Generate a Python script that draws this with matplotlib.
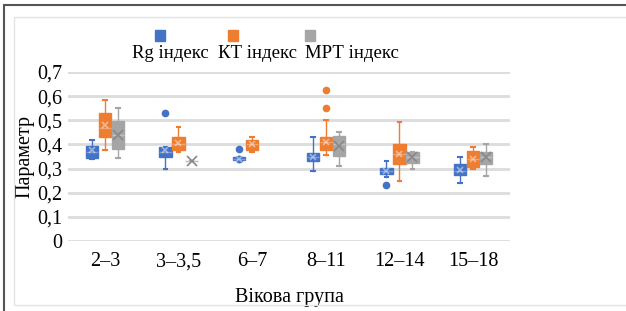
import numpy as np
import matplotlib
matplotlib.use("Agg")
import matplotlib.pyplot as plt
from matplotlib.patches import Rectangle

plt.rcParams['font.family'] = ['Liberation Serif', 'DejaVu Serif']

groups = ['2–3', '3–3,5', '6–7', '8–11', '12–14', '15–18']
series = ['Rg індекс', 'КТ індекс', 'МРТ індекс']
colors = ['#4472C4', '#ED7D31', '#A5A5A5']

# whislo, q1, median, q3, whishi, mean ; None = no box
rg = [(0.34, 0.345, 0.37, 0.395, 0.42, 0.375),
      (0.30, 0.35, 0.37, 0.39, 0.39, 0.375),
      (0.335, 0.335, 0.34, 0.347, 0.347, 0.34),
      (0.29, 0.33, 0.35, 0.365, 0.43, 0.35),
      (0.265, 0.277, 0.29, 0.304, 0.33, 0.29),
      (0.24, 0.272, 0.29, 0.32, 0.35, 0.295)]
kt = [(0.376, 0.43, 0.47, 0.53, 0.583, 0.48),
      (0.37, 0.376, 0.40, 0.43, 0.472, 0.405),
      (0.37, 0.376, 0.40, 0.417, 0.43, 0.40),
      (0.355, 0.378, 0.41, 0.43, 0.50, 0.41),
      (0.25, 0.318, 0.36, 0.403, 0.493, 0.36),
      (0.30, 0.306, 0.34, 0.373, 0.39, 0.34)]
mrt = [(0.344, 0.382, 0.44, 0.497, 0.552, 0.44),
       (0.33, 0.33, 0.33, 0.33, 0.33, 0.33),
       None,
       (0.31, 0.351, 0.40, 0.434, 0.451, 0.395),
       (0.30, 0.324, 0.35, 0.369, 0.369, 0.35),
       (0.268, 0.32, 0.35, 0.369, 0.40, 0.35)]
rg_out = [[], [0.532], [0.38, 0.34, 0.34], [], [0.23], []]
kt_out = [[], [], [], [0.624, 0.551], [], []]
mrt_out = [[], [], [], [], [], []]

data = [rg, kt, mrt]
outs = [rg_out, kt_out, mrt_out]

fig = plt.figure(figsize=(6.26, 3.11), dpi=100)
ax = fig.add_axes([0.1086, 0.225, 0.706, 0.5435])

offsets = [-0.177, 0.0, 0.177]
width = 0.168
for s in range(3):
    stats = []
    pos = []
    for g in range(len(groups)):
        d = data[s][g]
        if d is None:
            continue
        stats.append(dict(whislo=d[0], q1=d[1], med=d[2], q3=d[3],
                          whishi=d[4], mean=d[5], fliers=outs[s][g]))
        pos.append(g + offsets[s])
    c = colors[s]
    ax.bxp(stats, positions=pos, widths=width, patch_artist=True,
           showmeans=True, manage_ticks=False,
           boxprops=dict(facecolor=c, edgecolor=c, linewidth=1),
           medianprops=dict(color='white', alpha=0.3, linewidth=1),
           whiskerprops=dict(color=c, linewidth=1),
           capprops=dict(color=c, linewidth=1.5),
           capwidths=width * 0.3,
           flierprops=dict(marker='o', markerfacecolor=c, markeredgecolor=c,
                           markersize=4.5),
           meanprops=dict(marker='x', markeredgecolor='white' if s < 2 else '#888888',
                          markersize=5 if s < 2 else 7, markeredgewidth=1.2,
                          alpha=0.45 if s < 2 else 1))

ax.set_xlim(-0.5, len(groups) - 0.5)
ax.set_ylim(0, 0.7)
ax.set_yticks(np.arange(0, 0.71, 0.1))
ax.set_yticklabels(['0', '0,1', '0,2', '0,3', '0,4', '0,5', '0,6', '0,7'], fontsize=14.5)
ax.set_xticks(range(len(groups)))
ax.set_xticklabels(groups, fontsize=14.5)
ax.tick_params(length=0, pad=8)
ax.tick_params(axis='y', pad=4)
ax.grid(axis='y', color='#DCDCDC', linewidth=2)
ax.set_axisbelow(True)
for sp in ax.spines.values():
    sp.set_visible(False)
ax.set_ylabel('Параметр', fontsize=14.5, labelpad=2)
ax.set_xlabel('Вікова група', fontsize=14.5, labelpad=12)

# legend: squares above text
leg_sq_x = [160, 233, 310]
leg_txt_x = [170, 257, 352]
for i in range(3):
    fig.patches.append(Rectangle(((leg_sq_x[i] - 5) / 626, 1 - 41 / 311), 10 / 626, 11 / 311,
                                 transform=fig.transFigure, color=colors[i]))
    fig.text(leg_txt_x[i] / 626, 1 - 53 / 311, series[i], fontsize=13.5,
             ha='center', va='center')

# frames
fig.patches.append(Rectangle((4 / 626, -0.01), 1, 1 - 5 / 311 + 0.01, transform=fig.transFigure,
                             fill=False, edgecolor='#555555', linewidth=1.5))
fig.patches.append(Rectangle((14 / 626, 6 / 311), 1, 1 - 23 / 311, transform=fig.transFigure,
                             fill=False, edgecolor='#E3E3E3', linewidth=1))

fig.savefig('out.png', dpi=100)
